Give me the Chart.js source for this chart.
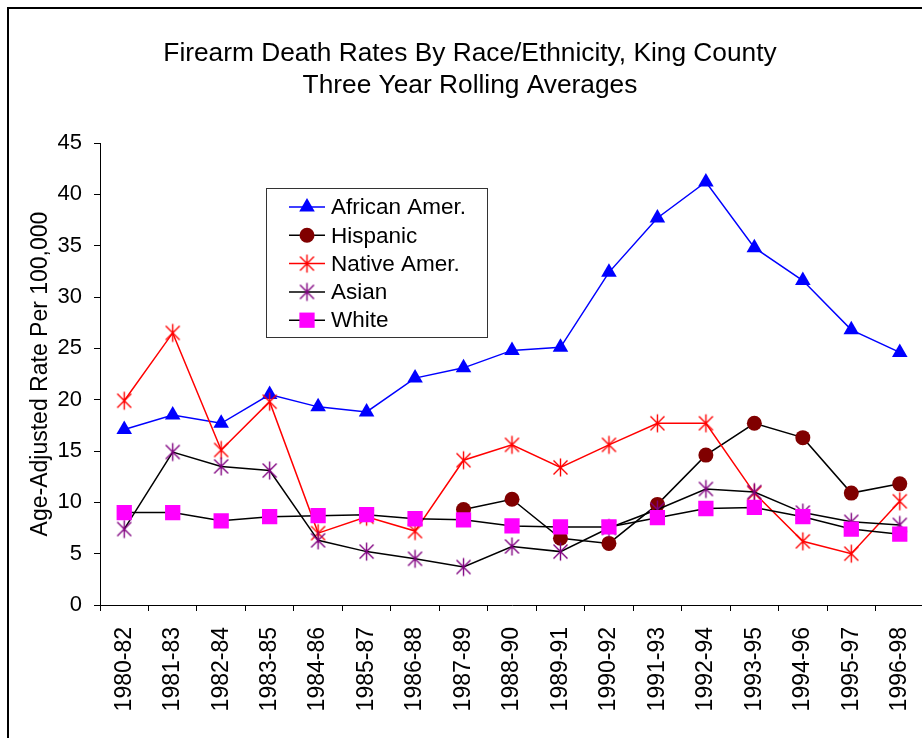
<!DOCTYPE html>
<html>
<head>
<meta charset="utf-8">
<script src="https://cdn.jsdelivr.net/npm/chart.js@4/dist/chart.umd.min.js"></script>
<style>
  html, body { margin: 0; padding: 0; overflow: hidden; background: #fff; width: 922px; height: 738px; }
  #frame { position: absolute; left: 7px; top: 7px; width: 1000px; height: 1000px; border: 2px solid #000; box-sizing: border-box; }
  #c { position: absolute; left: 0; top: 0; }
</style>
</head>
<body>
<div id="frame"></div>
<canvas id="c" width="940" height="738"></canvas>
<script>
const titleLines = ['Firearm Death Rates By Race/Ethnicity, King County', 'Three Year Rolling Averages'];
const yAxisTitle = 'Age-Adjusted Rate Per 100,000';
const categories = ['1980-82','1981-83','1982-84','1983-85','1984-86','1985-87','1986-88','1987-89','1988-90','1989-91','1990-92','1991-93','1992-94','1993-95','1994-96','1995-97','1996-98'];
const seriesNames = ['African Amer.', 'Hispanic', 'Native Amer.', 'Asian', 'White'];
const africanAmer = [17.1, 18.5, 17.7, 20.5, 19.3, 18.8, 22.1, 23.1, 24.8, 25.1, 32.4, 37.7, 41.2, 34.8, 31.6, 26.8, 24.6];
const hispanic = [null, null, null, null, null, null, null, 9.3, 10.3, 6.5, 6.0, 9.8, 14.6, 17.7, 16.3, 10.9, 11.8];
const nativeAmer = [19.9, 26.5, 15.1, 19.8, 7.0, 8.6, 7.2, 14.1, 15.6, 13.4, 15.6, 17.7, 17.7, 10.9, 6.2, 5.0, 10.1];
const asian = [7.4, 14.9, 13.5, 13.1, 6.3, 5.2, 4.5, 3.7, 5.7, 5.2, 7.5, 9.3, 11.3, 11.0, 9.0, 8.1, 7.8];
const white = [9.0, 9.0, 8.2, 8.6, 8.7, 8.8, 8.4, 8.3, 7.7, 7.6, 7.6, 8.5, 9.4, 9.5, 8.6, 7.4, 6.9];
const yTicks = [0, 5, 10, 15, 20, 25, 30, 35, 40, 45];

const FONT = "'Liberation Sans', Arial, sans-serif";

function makeAsterisk(color) {
  const cv = document.createElement('canvas');
  cv.width = 19; cv.height = 21;
  const g = cv.getContext('2d');
  g.strokeStyle = color;
  g.lineWidth = 1.4;
  const cx = 9.5, cy = 10.5;
  g.beginPath();
  g.moveTo(cx - 7, cy - 7); g.lineTo(cx + 7, cy + 7);
  g.moveTo(cx + 7, cy - 7); g.lineTo(cx - 7, cy + 7);
  g.moveTo(cx, cy - 9); g.lineTo(cx, cy + 9);
  g.stroke();
  return cv;
}

const legendPlugin = {
  id: 'boxLegend',
  afterDraw(chart) {
    const ctx = chart.ctx;
    ctx.save();
    ctx.fillStyle = '#fff';
    ctx.fillRect(266, 188, 221, 149);
    ctx.strokeStyle = '#333';
    ctx.lineWidth = 1;
    ctx.strokeRect(266.5, 188.5, 221, 149);
    chart.data.datasets.forEach((ds, i) => {
      const y = 207 + i * 28.3;
      ctx.strokeStyle = ds.borderColor;
      ctx.lineWidth = ds.borderWidth;
      ctx.beginPath();
      ctx.moveTo(289, y); ctx.lineTo(325, y);
      ctx.stroke();
      ctx.fillStyle = ds.pointBackgroundColor;
      ctx.strokeStyle = ds.pointBorderColor;
      Chart.helpers.drawPoint(ctx, {pointStyle: ds.pointStyle, radius: ds.pointRadius, rotation: 0, borderWidth: 0}, 307, y);
      ctx.fillStyle = '#000';
      ctx.font = '22.5px ' + FONT;
      ctx.textAlign = 'left';
      ctx.textBaseline = 'middle';
      ctx.fillText(ds.label, 331, y + 1);
    });
    ctx.restore();
  }
};

const mk = (label, data, line, fill, style, radius, order) => ({
  label, data, order,
  borderColor: line, borderWidth: 1.5,
  pointStyle: style, pointRadius: radius, pointHoverRadius: radius,
  pointBackgroundColor: fill, pointBorderColor: fill, pointBorderWidth: 0,
  tension: 0, fill: false, spanGaps: false
});

new Chart(document.getElementById('c'), {
  type: 'line',
  data: {
    labels: categories,
    datasets: [
      mk(seriesNames[0], africanAmer, '#0000FF', '#0000FF', 'triangle', 9, 5),
      mk(seriesNames[1], hispanic, '#000000', '#800000', 'circle', 7.5, 4),
      mk(seriesNames[2], nativeAmer, '#FF0000', '#FF0000', makeAsterisk('#FF0000'), 9, 3),
      mk(seriesNames[3], asian, '#000000', '#800080', makeAsterisk('#800080'), 9, 2),
      mk(seriesNames[4], white, '#000000', '#FF00FF', 'rect', 10.8, 1)
    ]
  },
  options: {
    responsive: false,
    animation: false,
    events: [],
    layout: { padding: { left: 16, right: 16, top: 0, bottom: 0 } },
    plugins: {
      legend: { display: false },
      tooltip: { enabled: false },
      title: {
        display: true,
        text: titleLines,
        color: '#000',
        font: { family: FONT, size: 26.3, weight: 'normal', lineHeight: '32px' },
        padding: { top: 38, bottom: 41 }
      }
    },
    scales: {
      x: {
        type: 'category',
        offset: true,
        grid: { display: true, drawOnChartArea: false, offset: true, tickLength: 6, color: '#000', tickColor: '#000' },
        border: { display: true, color: '#000', width: 1 },
        ticks: { color: '#000', font: { family: FONT, size: 23 }, minRotation: 90, maxRotation: 90, padding: 16, autoSkip: false },
        afterFit(s) { s.height = 133; s.paddingLeft = 0; s.paddingRight = 0; }
      },
      y: {
        min: 0, max: 45,
        afterBuildTicks(s) { s.ticks = yTicks.map(v => ({ value: v })); },
        grid: { display: true, drawOnChartArea: false, tickLength: 6, color: '#000', tickColor: '#000' },
        border: { display: true, color: '#000', width: 1 },
        ticks: { color: '#000', font: { family: FONT, size: 22 }, padding: 12 },
        title: { display: true, text: yAxisTitle, color: '#000', font: { family: FONT, size: 23 }, padding: { top: 11, bottom: 0 } },
        afterFit(s) { s.width = 84; s.paddingTop = 0; s.paddingBottom = 0; }
      }
    }
  },
  plugins: [legendPlugin]
});
</script>
</body>
</html>
